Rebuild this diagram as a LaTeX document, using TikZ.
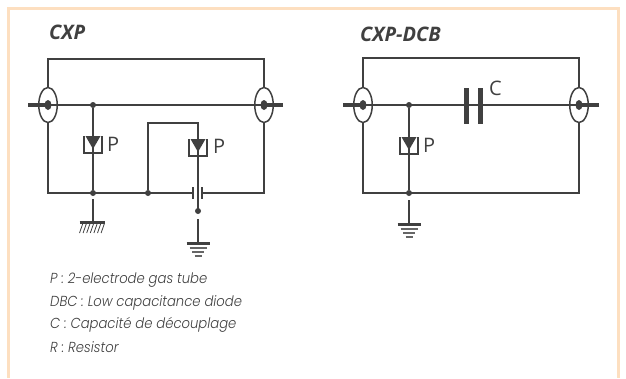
\documentclass[tikz,border=0pt]{standalone}
\usepackage{fontspec}
\setmainfont{Open Sans}
\newfontfamily\legendfont{Poppins Light}[ItalicFont={Poppins Light Italic},ItalicFeatures={FakeStretch=0.91}]
\usetikzlibrary{shapes.geometric}
\definecolor{ink}{HTML}{404040}
\definecolor{framec}{HTML}{FDDFC0}
\tikzset{
  x=1pt,y=-1pt,
  wire/.style={draw=ink,line width=1.6pt,line join=miter},
  stub/.style={draw=ink,line width=4.2pt},
  port/.style={draw=ink,line width=1.5pt,ellipse,fill=white,minimum width=18.5pt,minimum height=35pt,inner sep=0pt},
  dotn/.style={circle,fill=ink,inner sep=0pt,minimum size=6pt},
  pdot/.style={ellipse,fill=ink,inner sep=0pt,minimum width=7pt,minimum height=10pt},
  tube/.style={draw=ink,line width=1.3pt},
  lab/.style={text=ink,font=\fontsize{20}{20}\selectfont,inner sep=0pt},
  title/.style={text=ink,font=\fontsize{20}{20}\selectfont\bfseries\itshape,inner sep=0pt,anchor=west},
  legend/.style={text=ink,font=\fontsize{14.5}{14.5}\selectfont\legendfont\itshape,inner sep=0pt,anchor=west},
  platethin/.style={draw=ink,line width=1.4pt},
  platethick/.style={draw=ink,line width=5pt},
  gndbar/.style={draw=ink,line width=3pt},
  gndthin/.style={draw=ink!80,line width=1.2pt}
}
\newcommand{\gastube}[2]{% x, top y of box
  \draw[tube] (#1-9,#2) -- (#1-9,#2+17) -- (#1+9,#2+17) -- (#1+9,#2);
  \fill[ink] (#1-7.5,#2) -- (#1+7.5,#2) -- (#1,#2+13) -- cycle;
}
\newcommand{\earth}[2]{% x, bar y
  \draw[gndbar] (#1-11.5,#2) -- (#1+11.5,#2);
  \draw[gndthin] (#1-8.5,#2+5) -- (#1+8.5,#2+5);
  \draw[gndthin] (#1-6,#2+9) -- (#1+6,#2+9);
  \draw[gndthin] (#1-3.5,#2+13) -- (#1+3.5,#2+13);
}
\begin{document}
\begin{tikzpicture}
\useasboundingbox (0,0) rectangle (626,378);
% frame
\draw[framec,line width=3pt] (8.5,378) -- (8.5,8.5) -- (618,8.5) -- (618,378);
% titles
\node[title] (t1) at (49,32) {CXP};
\node[title] (t2) at (360,34) {CXP-DCB};

% ---------- CXP ----------
\coordinate (aTL) at (48,59);
\coordinate (aTR) at (264,59);
\coordinate (aBL) at (48,193);
\coordinate (aBR) at (264,193);
\coordinate (aSL) at (28,105);
\coordinate (aSR) at (283,105);
\node[port] (aPL) at (48,105) {};
\node[port] (aPR) at (264,105) {};
\draw[wire] (aPL.north) -- (aTL) -- (aTR) -- (aPR.north);
\draw[wire] (aPL.south) -- (aBL) -- (193,193);
\draw[wire] (aPR.south) -- (aBR) -- (202,193);
\draw[wire] (48,105) -- (264,105);
\draw[stub] (aSL) -- (48,105);
\draw[stub] (aSR) -- (264,105);
\node[pdot] (aD1) at (48,105) {};
\node[pdot] (aD2) at (264,105) {};
\node[dotn] (aJ1) at (93,105) {};
\node[dotn] (aJ2) at (93,193) {};
\node[dotn] (aJ3) at (148,193) {};
\draw[wire] (aJ1) -- (aJ2);
\gastube{93}{136}
\node[lab,anchor=west] (aP1) at (107,144) {P};
\draw[wire] (aJ3) -- (148,123) -- (198,123) -- (198,211);
\gastube{198}{139}
\node[lab,anchor=west] (aP2) at (213,146) {P};
\node[dotn] (aJ4) at (198,211) {};
\draw[platethin] (193,187) -- (193,199);
\draw[platethin] (202,187) -- (202,199);
% grounds
\coordinate (aG1) at (93,222);
\draw[wire,line width=2.4pt] (93,199) -- (aG1);
\draw[gndbar] (79.5,222) -- (105,222);
\foreach \i in {0,...,6}{
  \draw[ink,line width=.8pt] (83+\i*3.6,223) -- (79.5+\i*3.6,233);
}
\coordinate (aG2) at (198,243);
\draw[wire,line width=2pt] (198,219) -- (aG2);
\earth{198}{243}

% ---------- CXP-DCB ----------
\coordinate (bTL) at (363,58);
\coordinate (bTR) at (579,58);
\coordinate (bBL) at (363,193);
\coordinate (bBR) at (579,193);
\coordinate (bSL) at (343,105);
\coordinate (bSR) at (599,105);
\node[port] (bPL) at (363,105) {};
\node[port] (bPR) at (579,105) {};
\draw[wire] (bPL.north) -- (bTL) -- (bTR) -- (bPR.north);
\draw[wire] (bPL.south) -- (bBL) -- (bBR) -- (bPR.south);
\draw[wire] (363,105) -- (579,105);
\draw[stub] (bSL) -- (363,105);
\draw[stub] (bSR) -- (579,105);
\node[pdot] (bD1) at (363,105) {};
\node[pdot] (bD2) at (579,105) {};
\node[dotn] (bJ1) at (409,105) {};
\node[dotn] (bJ2) at (409,193) {};
\draw[wire] (bJ1) -- (bJ2);
\gastube{409}{137}
\node[lab,anchor=west] (bP1) at (423,145) {P};
\draw[platethick] (466,88) -- (466,123.5);
\draw[platethick] (480,88) -- (480,123.5);
\node[lab,anchor=west] (bC) at (489,88) {C};
\coordinate (bG) at (409,224);
\draw[wire,line width=2pt] (409,200) -- (bG);
\earth{409}{224}

% legend
\node[legend] (l1) at (50,280) {P : 2-electrode gas tube};
\node[legend] (l2) at (50,303) {DBC : Low capacitance diode};
\node[legend] (l3) at (50,325) {C : Capacité de découplage};
\node[legend] (l4) at (50,347) {R : Resistor};
\end{tikzpicture}
\end{document}
